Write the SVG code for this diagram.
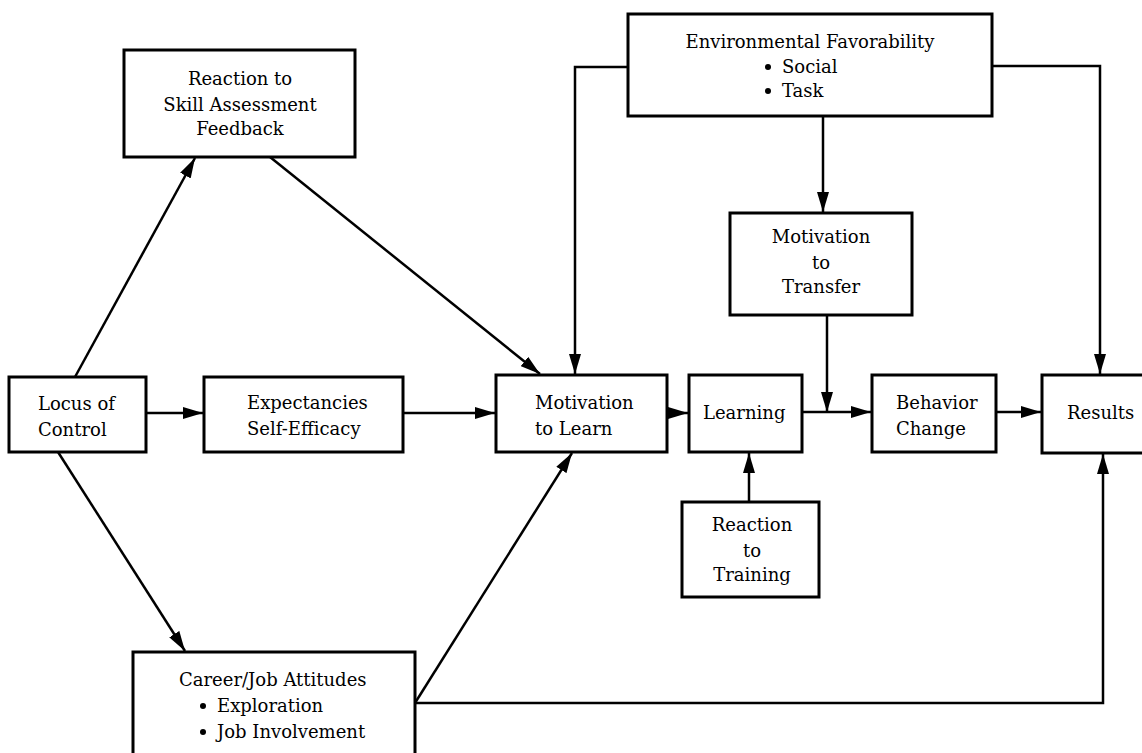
<svg xmlns="http://www.w3.org/2000/svg" width="1142" height="753" viewBox="0 0 1142 753">
<style>
.box{fill:#fff;stroke:#000;stroke-width:3}
.t{font-family:"DejaVu Serif","Liberation Serif",serif;font-size:18px;fill:#000}
.c{text-anchor:middle}
.ln{fill:none;stroke:#000;stroke-width:2.5;marker-end:url(#ah)}
</style>
<defs>
<marker id="ah" markerUnits="userSpaceOnUse" markerWidth="20" markerHeight="12" refX="20" refY="6" orient="auto">
<path d="M0,0 L20,6 L0,12 z" fill="#000"/>
</marker>
</defs>
<rect width="1142" height="753" fill="#fff"/>
<g id="connectors">
<line class="ln" x1="75" y1="377" x2="195" y2="158"/>
<line class="ln" x1="58" y1="452" x2="185" y2="651"/>
<line class="ln" x1="146" y1="413" x2="203" y2="413"/>
<line class="ln" x1="403" y1="413" x2="495" y2="413"/>
<line class="ln" x1="270" y1="157" x2="540" y2="374"/>
<path class="ln" d="M628,67 H575 V374"/>
<path class="ln" d="M992,66 H1100 V374"/>
<line class="ln" x1="823" y1="116" x2="823" y2="212"/>
<line class="ln" x1="827" y1="315" x2="827" y2="412"/>
<line class="ln" x1="666" y1="413" x2="688" y2="413"/>
<line class="ln" x1="802" y1="412" x2="871" y2="412"/>
<line class="ln" x1="996" y1="412" x2="1041" y2="412"/>
<line class="ln" x1="749" y1="502" x2="749" y2="453"/>
<line class="ln" x1="415" y1="703" x2="572" y2="453"/>
<path class="ln" d="M415,703 H1103 V454"/>
</g>
<g id="reaction-skill">
<rect class="box" x="124" y="50" width="231" height="107"/>
<text class="t c" x="240" y="85">Reaction to</text>
<text class="t c" x="240" y="111">Skill Assessment</text>
<text class="t c" x="240" y="135">Feedback</text>
</g>
<g id="env-favorability">
<rect class="box" x="628" y="14" width="364" height="102"/>
<text class="t c" x="810" y="48">Environmental Favorability</text>
<circle cx="768" cy="67" r="3"/>
<text class="t" x="782" y="73">Social</text>
<circle cx="768" cy="91" r="3"/>
<text class="t" x="782" y="97">Task</text>
</g>
<g id="motivation-transfer">
<rect class="box" x="730" y="213" width="182" height="102"/>
<text class="t c" x="821" y="243">Motivation</text>
<text class="t c" x="821" y="269">to</text>
<text class="t c" x="821" y="293">Transfer</text>
</g>
<g id="locus">
<rect class="box" x="9" y="377" width="137" height="75"/>
<text class="t" x="38" y="410">Locus of</text>
<text class="t" x="38" y="436">Control</text>
</g>
<g id="expectancies">
<rect class="box" x="204" y="377" width="199" height="75"/>
<text class="t" x="247" y="409">Expectancies</text>
<text class="t" x="247" y="435">Self-Efficacy</text>
</g>
<g id="motivation-learn">
<rect class="box" x="496" y="375" width="171" height="77"/>
<text class="t" x="535" y="409">Motivation</text>
<text class="t" x="535" y="435">to Learn</text>
</g>
<g id="learning">
<rect class="box" x="689" y="375" width="113" height="77"/>
<text class="t" x="703" y="419">Learning</text>
</g>
<g id="behavior">
<rect class="box" x="872" y="375" width="124" height="77"/>
<text class="t" x="896" y="409">Behavior</text>
<text class="t" x="896" y="435">Change</text>
</g>
<g id="results">
<rect class="box" x="1042" y="375" width="110" height="78"/>
<text class="t" x="1067" y="419">Results</text>
</g>
<g id="reaction-training">
<rect class="box" x="682" y="502" width="137" height="95"/>
<text class="t c" x="752" y="531">Reaction</text>
<text class="t c" x="752" y="557">to</text>
<text class="t c" x="752" y="581">Training</text>
</g>
<g id="career">
<rect class="box" x="133" y="652" width="282" height="110"/>
<text class="t" x="179" y="686">Career/Job Attitudes</text>
<circle cx="203" cy="706" r="3"/>
<text class="t" x="217" y="712">Exploration</text>
<circle cx="203" cy="732" r="3"/>
<text class="t" x="217" y="738">Job Involvement</text>
</g>
</svg>
